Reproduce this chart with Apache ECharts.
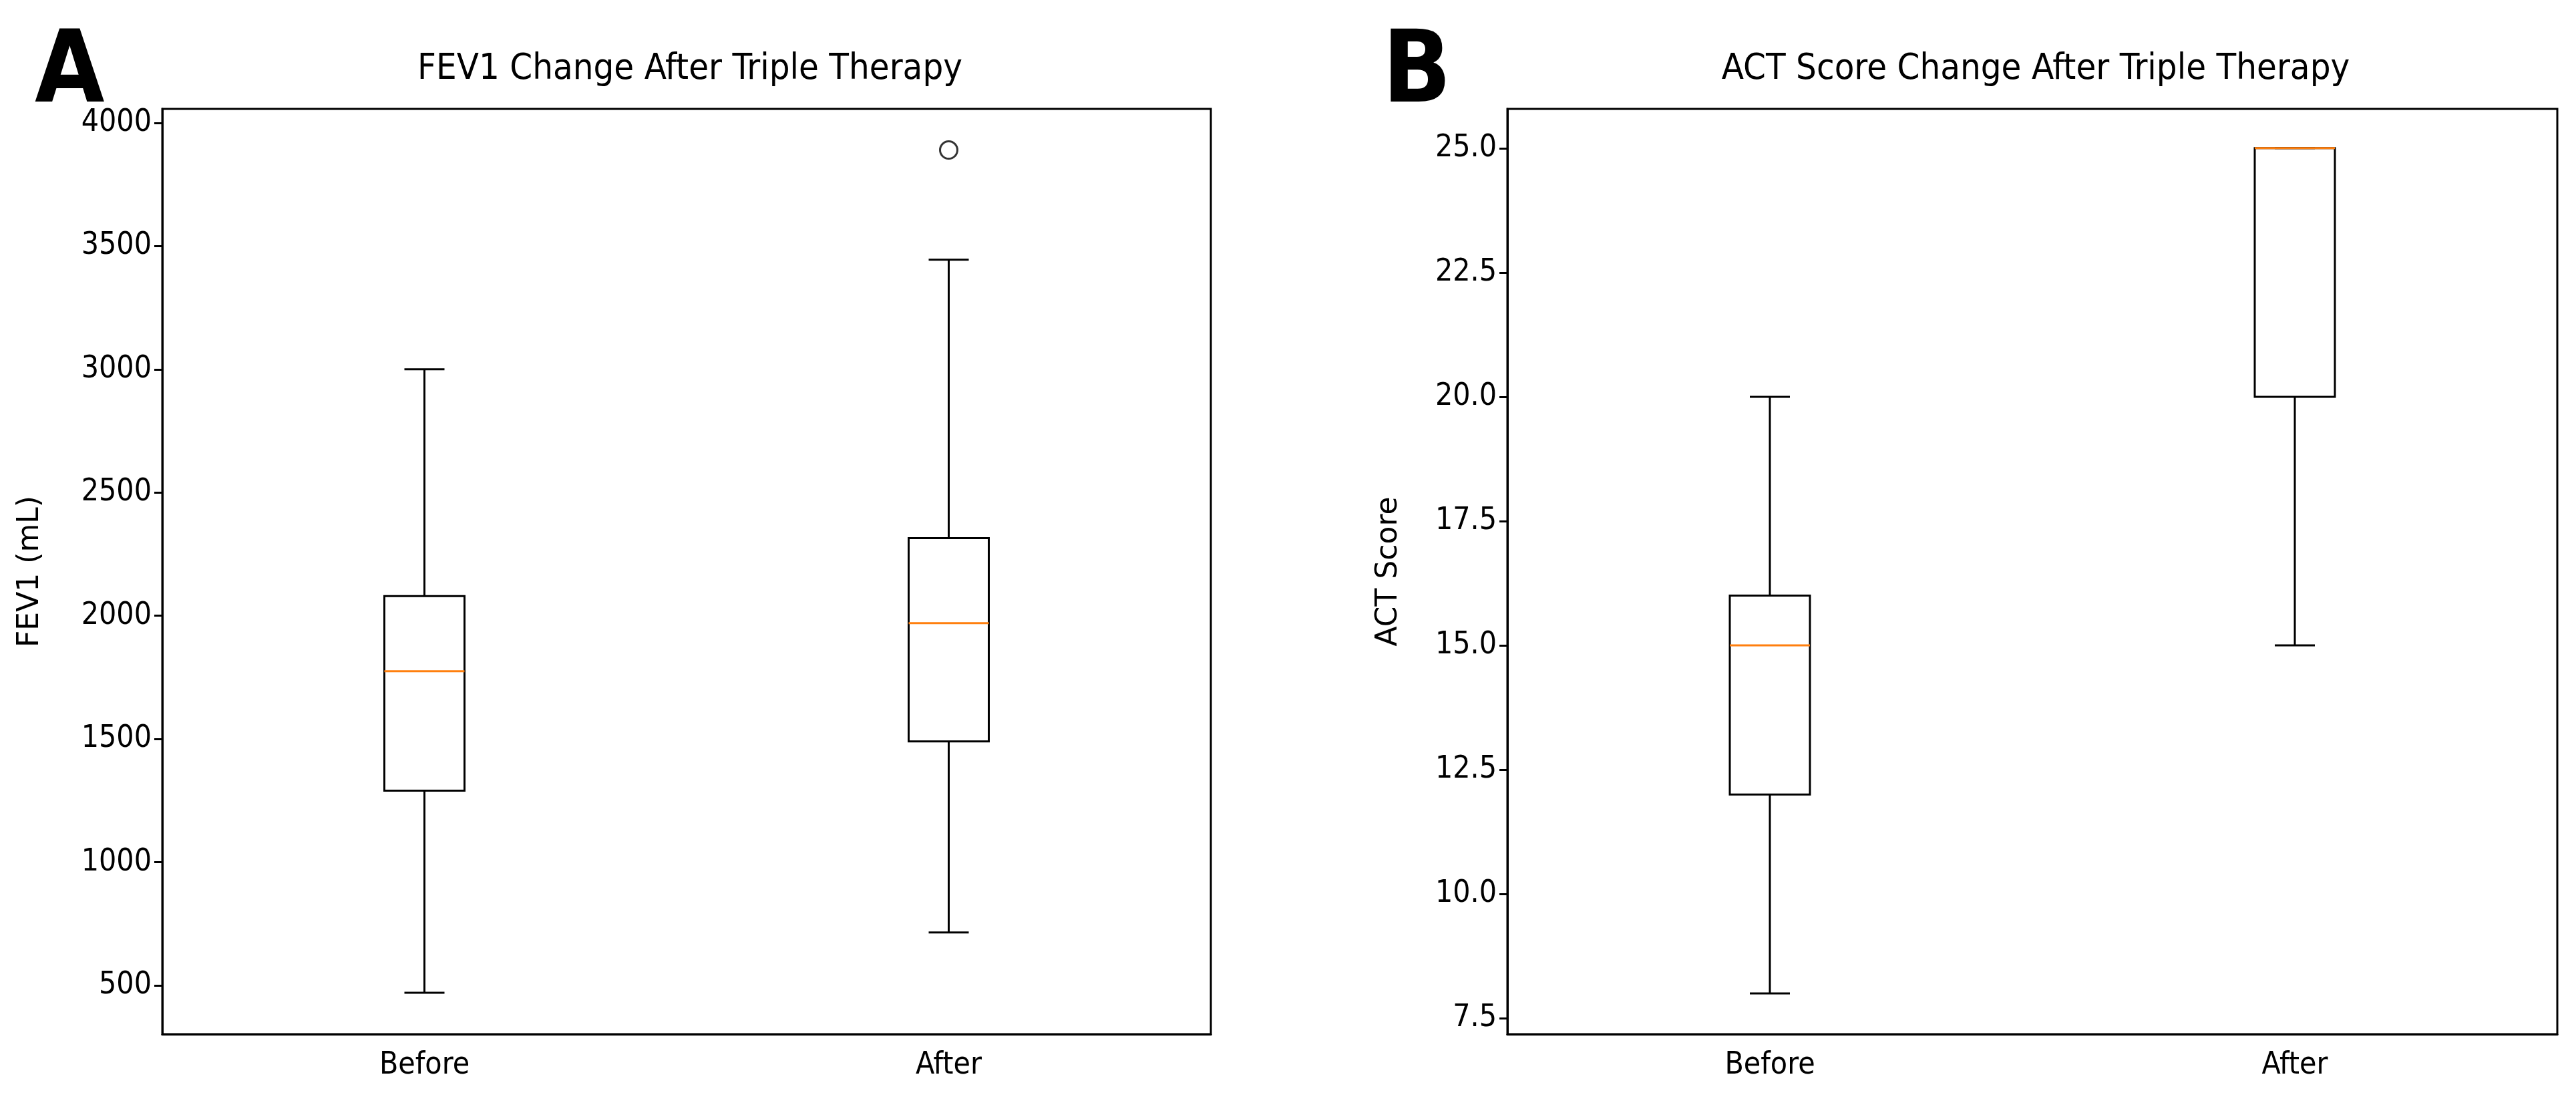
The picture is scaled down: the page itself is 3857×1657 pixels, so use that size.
<!DOCTYPE html>
<html>
<head>
<meta charset="utf-8">
<script src="https://cdn.jsdelivr.net/npm/echarts@6/dist/echarts.min.js"></script>
<style>html,body{margin:0;padding:0;background:#fff}#chart{width:3857px;height:1657px}</style>
</head>
<body>
<div id="chart"></div>
<script>
// box stats: [lower whisker, Q1, median, Q3, upper whisker]
var categories = ['Before', 'After'];
var fevStats = [[470, 1290, 1775, 2080, 3000], [715, 1490, 1970, 2315, 3445]];
var fevOutliers = [[1, 3890]];
var actStats = [[8, 12, 15, 16, 20], [15, 20, 25, 25, 25]];
var fevTicks = [500, 1000, 1500, 2000, 2500, 3000, 3500, 4000];
var actTicks = [7.5, 10, 12.5, 15, 17.5, 20, 22.5, 25];

var chart = echarts.init(document.getElementById('chart'));
var font = 'DejaVu Sans Condensed';
var BOXW = 120;

function boxItem(params, api) {
    var x = api.value(0);
    var p = [0, 1, 2, 3, 4].map(function(i) { return api.coord([x, api.value(i + 1)]); });
    var cx = p[0][0], h = BOXW / 2, c = BOXW / 4;
    var st = { stroke: '#000', lineWidth: 3, fill: null };
    function ln(x1, y1, x2, y2, s) { return { type: 'line', shape: { x1: x1, y1: y1, x2: x2, y2: y2 }, style: s || st }; }
    return { type: 'group', children: [
        { type: 'rect', shape: { x: cx - h, y: p[3][1], width: BOXW, height: p[1][1] - p[3][1] }, style: { stroke: '#000', lineWidth: 3, fill: 'none' } },
        ln(cx, p[1][1], cx, p[0][1]), ln(cx, p[3][1], cx, p[4][1]),
        ln(cx - c, p[0][1], cx + c, p[0][1]), ln(cx - c, p[4][1], cx + c, p[4][1]),
        ln(cx - h, p[2][1], cx + h, p[2][1], { stroke: '#ff7f0e', lineWidth: 3 })
    ] };
}

function boxData(stats) {
    return stats.map(function(s, i) { return [i].concat(s); });
}

function yAx(idx, min, max, ticks, name, gap, fmt) {
    return {
        gridIndex: idx, type: 'value', min: min, max: max, name: name, nameLocation: 'middle', nameGap: gap,
        nameTextStyle: { fontFamily: 'DejaVu Sans', fontSize: 44, color: '#000' },
        axisLine: { show: true, lineStyle: { color: '#000', width: 3 } },
        axisTick: { show: true, length: 12, lineStyle: { color: '#000', width: 3 }, customValues: ticks },
        axisLabel: { fontFamily: font, fontSize: 46, color: '#000', margin: 16, customValues: ticks, formatter: fmt },
        splitLine: { show: false }
    };
}
function xAx(idx) {
    return {
        gridIndex: idx, type: 'category', data: categories, boundaryGap: true,
        axisLine: { lineStyle: { color: '#000', width: 3 } },
        axisTick: { alignWithLabel: true, length: 12, lineStyle: { color: '#000', width: 3 } },
        axisLabel: { fontFamily: font, fontSize: 46, color: '#000', margin: 24 }
    };
}

var option = {
    animation: false,
    backgroundColor: '#fff',
    title: [
        { text: 'FEV1 Change After Triple Therapy', left: 1028, top: 72, textAlign: 'center', textStyle: { fontFamily: font, fontSize: 54, fontWeight: 'normal', color: '#000' } },
        { text: 'ACT Score Change After Triple Therapy', left: 3043, top: 72, textAlign: 'center', textStyle: { fontFamily: font, fontSize: 54, fontWeight: 'normal', color: '#000' } }
    ],
    graphic: [
        { type: 'text', left: 52, top: 38, style: { text: 'A', font: 'bold 150px "DejaVu Sans Condensed"', fill: '#000' } },
        { type: 'text', left: 2070, top: 38, style: { text: 'B', font: 'bold 150px "DejaVu Sans Condensed"', fill: '#000' } }
    ],
    grid: [
        { left: 243, top: 163, width: 1570, height: 1385, show: true, borderColor: '#000', borderWidth: 3 },
        { left: 2257, top: 163, width: 1572, height: 1385, show: true, borderColor: '#000', borderWidth: 3 }
    ],
    xAxis: [xAx(0), xAx(1)],
    yAxis: [
        yAx(0, 302, 4057, fevTicks, 'FEV1 (mL)', 175, function(v) { return String(v); }),
        yAx(1, 7.18, 25.79, actTicks, 'ACT Score', 155, function(v) { return v.toFixed(1); })
    ],
    series: [
        { type: 'custom', xAxisIndex: 0, yAxisIndex: 0, data: boxData(fevStats), renderItem: boxItem, encode: { x: 0, y: [1, 2, 3, 4, 5] } },
        { type: 'custom', xAxisIndex: 1, yAxisIndex: 1, data: boxData(actStats), renderItem: boxItem, encode: { x: 0, y: [1, 2, 3, 4, 5] } },
        { type: 'scatter', xAxisIndex: 0, yAxisIndex: 0, data: fevOutliers, symbol: 'circle', symbolSize: 26,
          itemStyle: { color: 'none', borderColor: '#000', borderWidth: 3 } }
    ]
};
chart.setOption(option);
</script>
</body>
</html>
